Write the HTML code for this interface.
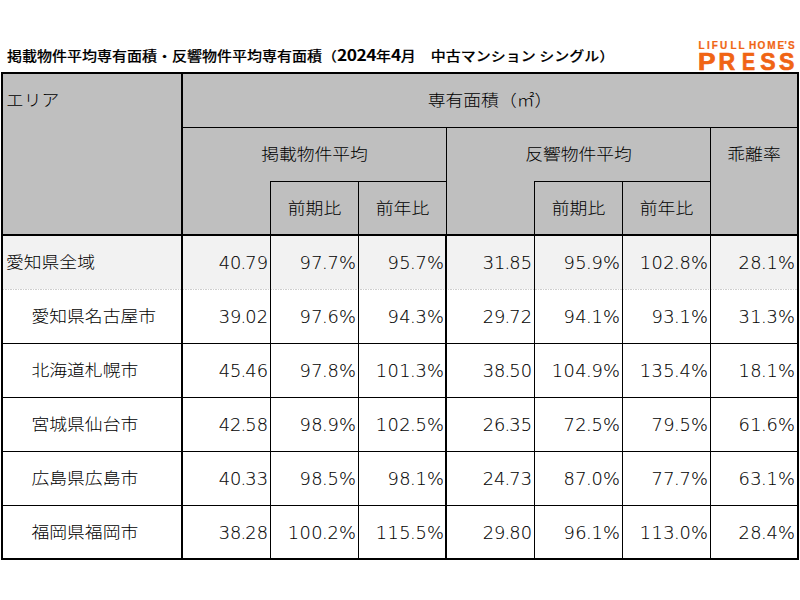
<!DOCTYPE html>
<html lang="ja"><head><meta charset="utf-8"><title>掲載物件平均専有面積・反響物件平均専有面積</title>
<style>
html,body{margin:0;padding:0;background:#fff;}
body{width:800px;height:600px;position:relative;overflow:hidden;font-family:"Liberation Sans","Noto Sans CJK JP",sans-serif;color:#000;}
.a{position:absolute;}
.l{position:absolute;background:#000;}
.t{position:absolute;white-space:nowrap;font-family:"Noto Sans CJK JP",sans-serif;font-size:17.8px;line-height:20px;height:20px;font-weight:300;color:#000;transform:scaleY(0.9);transform-origin:50% 50%;}
.n{position:absolute;white-space:nowrap;font-family:"DejaVu Sans","Noto Sans CJK JP",sans-serif;font-size:17.8px;font-weight:200;line-height:20px;height:20px;text-align:right;color:#000;-webkit-text-stroke:0.12px #000;letter-spacing:0px;}
.title{transform:scaleY(0.89);transform-origin:50% 50%;position:absolute;left:7px;top:45px;white-space:nowrap;font-family:"DejaVu Sans","Noto Sans CJK JP",sans-serif;font-weight:700;font-size:15px;line-height:20px;color:#000;}
.title .j{font-family:"Noto Sans CJK JP",sans-serif;font-weight:500;-webkit-text-stroke:0.15px #000;}
.title .d{font-family:"Noto Sans CJK JP",sans-serif;font-weight:700;font-size:17.4px;letter-spacing:-0.5px;vertical-align:0px;}
.n i{font-style:normal;margin:0 -0.8px;}
.logo{position:absolute;color:#f06414;font-family:"Liberation Sans",sans-serif;font-weight:700;white-space:nowrap;}
.ls{position:absolute;top:39.6px;font-size:10px;line-height:12px;-webkit-text-stroke:0.2px #f06414;}
.lb{position:absolute;top:48.5px;font-size:23px;line-height:26px;-webkit-text-stroke:0.7px #f06414;}
</style></head><body>

<div class="a" style="left:1px;top:72px;width:798px;height:164px;background:#bfbfbf"></div>
<div class="a" style="left:3px;top:236px;width:794px;height:53px;background:#f2f2f2"></div>
<div class="a" style="left:3px;top:289px;width:794px;height:1px;background:repeating-linear-gradient(90deg,#cfcfcf 0 1.2px,#fff 1.2px 2.5px)"></div>
<div class="title"><span class="j">掲載物件平均専有面積・反響物件平均専有面積（</span><span class="d">2024</span><span class="j">年</span><span class="d">4</span><span class="j">月　中古マンション シングル）</span></div>
<div class="logo" style="left:0;top:0">
<span class="ls" style="left:698.40px">L</span>
<span class="ls" style="left:706.90px">I</span>
<span class="ls" style="left:711.80px">F</span>
<span class="ls" style="left:719.90px">U</span>
<span class="ls" style="left:730.60px">L</span>
<span class="ls" style="left:738.40px">L</span>
<span class="ls" style="left:749.10px">H</span>
<span class="ls" style="left:757.50px">O</span>
<span class="ls" style="left:767.30px">M</span>
<span class="ls" style="left:777.40px">E</span>
<span class="ls" style="left:784.20px">’</span>
<span class="ls" style="left:788.10px">S</span>
<span class="lb" style="left:697.50px;transform:scaleX(1.14);transform-origin:0 0">P</span>
<span class="lb" style="left:718.40px;transform:scaleX(1);transform-origin:0 0">R</span>
<span class="lb" style="left:742.00px;transform:scaleX(0.85);transform-origin:0 0">E</span>
<span class="lb" style="left:760.20px;transform:scaleX(1);transform-origin:0 0">S</span>
<span class="lb" style="left:779.00px;transform:scaleX(1);transform-origin:0 0">S</span>
</div>
<div class="l" style="left:1px;top:72px;width:798px;height:2px"></div>
<div class="l" style="left:1px;top:558px;width:798px;height:2px"></div>
<div class="l" style="left:1px;top:72px;width:2px;height:488px"></div>
<div class="l" style="left:797px;top:72px;width:2px;height:488px"></div>
<div class="l" style="left:1px;top:234px;width:798px;height:2px"></div>
<div class="l" style="left:181px;top:72px;width:2px;height:488px"></div>
<div class="l" style="left:183px;top:127px;width:614px;height:1px"></div>
<div class="l" style="left:271px;top:181px;width:175px;height:1px"></div>
<div class="l" style="left:535px;top:181px;width:175px;height:1px"></div>
<div class="l" style="left:270px;top:181px;width:1px;height:377px"></div>
<div class="l" style="left:358px;top:181px;width:1px;height:377px"></div>
<div class="l" style="left:534px;top:181px;width:1px;height:377px"></div>
<div class="l" style="left:622px;top:181px;width:1px;height:377px"></div>
<div class="l" style="left:446px;top:128px;width:1px;height:106px"></div>
<div class="l" style="left:445px;top:236px;width:2px;height:322px"></div>
<div class="l" style="left:710px;top:128px;width:1px;height:430px"></div>
<div class="l" style="left:3px;top:343px;width:794px;height:1px"></div>
<div class="l" style="left:3px;top:397px;width:794px;height:1px"></div>
<div class="l" style="left:3px;top:451px;width:794px;height:1px"></div>
<div class="l" style="left:3px;top:505px;width:794px;height:1px"></div>
<div class="t" style="left:6px;top:89px">エリア</div>
<div class="t" style="left:183px;width:614px;top:88.6px;text-align:center">専有面積（㎡）</div>
<div class="t" style="left:183px;width:263px;top:142.6px;text-align:center">掲載物件平均</div>
<div class="t" style="left:447px;width:263px;top:142.6px;text-align:center">反響物件平均</div>
<div class="t" style="left:711px;width:86px;top:142.6px;text-align:center">乖離率</div>
<div class="t" style="left:271px;width:87px;top:196.6px;text-align:center">前期比</div>
<div class="t" style="left:359px;width:87px;top:196.6px;text-align:center">前年比</div>
<div class="t" style="left:535px;width:87px;top:196.6px;text-align:center">前期比</div>
<div class="t" style="left:623px;width:87px;top:196.6px;text-align:center">前年比</div>
<div class="t" style="left:6px;top:251.2px">愛知県全域</div>
<div class="n" style="left:183px;width:85.00px;top:253px;letter-spacing:0px">40<i>.</i>79</div>
<div class="n" style="left:271px;width:85.40px;top:253px;letter-spacing:0.4px">97<i>.</i>7%</div>
<div class="n" style="left:359px;width:85.40px;top:253px;letter-spacing:0.4px">95<i>.</i>7%</div>
<div class="n" style="left:447px;width:85.00px;top:253px;letter-spacing:0px">31<i>.</i>85</div>
<div class="n" style="left:535px;width:85.40px;top:253px;letter-spacing:0.4px">95<i>.</i>9%</div>
<div class="n" style="left:623px;width:85.40px;top:253px;letter-spacing:0.4px">102<i>.</i>8%</div>
<div class="n" style="left:711px;width:84.40px;top:253px;letter-spacing:0.4px">28<i>.</i>1%</div>
<div class="t" style="left:31.5px;top:305.2px">愛知県名古屋市</div>
<div class="n" style="left:183px;width:85.00px;top:307px;letter-spacing:0px">39<i>.</i>02</div>
<div class="n" style="left:271px;width:85.40px;top:307px;letter-spacing:0.4px">97<i>.</i>6%</div>
<div class="n" style="left:359px;width:85.40px;top:307px;letter-spacing:0.4px">94<i>.</i>3%</div>
<div class="n" style="left:447px;width:85.00px;top:307px;letter-spacing:0px">29<i>.</i>72</div>
<div class="n" style="left:535px;width:85.40px;top:307px;letter-spacing:0.4px">94<i>.</i>1%</div>
<div class="n" style="left:623px;width:85.40px;top:307px;letter-spacing:0.4px">93<i>.</i>1%</div>
<div class="n" style="left:711px;width:84.40px;top:307px;letter-spacing:0.4px">31<i>.</i>3%</div>
<div class="t" style="left:31.5px;top:359.2px">北海道札幌市</div>
<div class="n" style="left:183px;width:85.00px;top:361px;letter-spacing:0px">45<i>.</i>46</div>
<div class="n" style="left:271px;width:85.40px;top:361px;letter-spacing:0.4px">97<i>.</i>8%</div>
<div class="n" style="left:359px;width:85.40px;top:361px;letter-spacing:0.4px">101<i>.</i>3%</div>
<div class="n" style="left:447px;width:85.00px;top:361px;letter-spacing:0px">38<i>.</i>50</div>
<div class="n" style="left:535px;width:85.40px;top:361px;letter-spacing:0.4px">104<i>.</i>9%</div>
<div class="n" style="left:623px;width:85.40px;top:361px;letter-spacing:0.4px">135<i>.</i>4%</div>
<div class="n" style="left:711px;width:84.40px;top:361px;letter-spacing:0.4px">18<i>.</i>1%</div>
<div class="t" style="left:31.5px;top:413.2px">宮城県仙台市</div>
<div class="n" style="left:183px;width:85.00px;top:415px;letter-spacing:0px">42<i>.</i>58</div>
<div class="n" style="left:271px;width:85.40px;top:415px;letter-spacing:0.4px">98<i>.</i>9%</div>
<div class="n" style="left:359px;width:85.40px;top:415px;letter-spacing:0.4px">102<i>.</i>5%</div>
<div class="n" style="left:447px;width:85.00px;top:415px;letter-spacing:0px">26<i>.</i>35</div>
<div class="n" style="left:535px;width:85.40px;top:415px;letter-spacing:0.4px">72<i>.</i>5%</div>
<div class="n" style="left:623px;width:85.40px;top:415px;letter-spacing:0.4px">79<i>.</i>5%</div>
<div class="n" style="left:711px;width:84.40px;top:415px;letter-spacing:0.4px">61<i>.</i>6%</div>
<div class="t" style="left:31.5px;top:467.2px">広島県広島市</div>
<div class="n" style="left:183px;width:85.00px;top:469px;letter-spacing:0px">40<i>.</i>33</div>
<div class="n" style="left:271px;width:85.40px;top:469px;letter-spacing:0.4px">98<i>.</i>5%</div>
<div class="n" style="left:359px;width:85.40px;top:469px;letter-spacing:0.4px">98<i>.</i>1%</div>
<div class="n" style="left:447px;width:85.00px;top:469px;letter-spacing:0px">24<i>.</i>73</div>
<div class="n" style="left:535px;width:85.40px;top:469px;letter-spacing:0.4px">87<i>.</i>0%</div>
<div class="n" style="left:623px;width:85.40px;top:469px;letter-spacing:0.4px">77<i>.</i>7%</div>
<div class="n" style="left:711px;width:84.40px;top:469px;letter-spacing:0.4px">63<i>.</i>1%</div>
<div class="t" style="left:31.5px;top:521.2px">福岡県福岡市</div>
<div class="n" style="left:183px;width:85.00px;top:523px;letter-spacing:0px">38<i>.</i>28</div>
<div class="n" style="left:271px;width:85.40px;top:523px;letter-spacing:0.4px">100<i>.</i>2%</div>
<div class="n" style="left:359px;width:85.40px;top:523px;letter-spacing:0.4px">115<i>.</i>5%</div>
<div class="n" style="left:447px;width:85.00px;top:523px;letter-spacing:0px">29<i>.</i>80</div>
<div class="n" style="left:535px;width:85.40px;top:523px;letter-spacing:0.4px">96<i>.</i>1%</div>
<div class="n" style="left:623px;width:85.40px;top:523px;letter-spacing:0.4px">113<i>.</i>0%</div>
<div class="n" style="left:711px;width:84.40px;top:523px;letter-spacing:0.4px">28<i>.</i>4%</div>
</body></html>
